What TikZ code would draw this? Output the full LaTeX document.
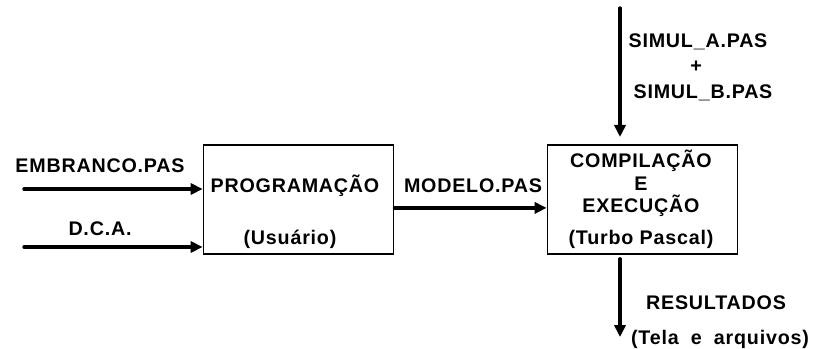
\documentclass[tikz,border=0pt]{standalone}
\usepackage{fontspec}
\setmainfont{Liberation Sans}[LetterSpace=4]
\usepackage{tikz}
\usetikzlibrary{arrows.meta,positioning,calc}

\begin{document}
\begin{tikzpicture}[x=0.025cm, y=-0.025cm,
  box/.style={draw, line width=1.3pt, minimum width=4.75cm, minimum height=2.72cm, inner sep=0pt},
  txt/.style={font=\fontsize{14}{16}\selectfont\bfseries, inner sep=0pt, text height=10pt, text depth=0pt},
  flow/.style={line width=2.4pt, line cap=round, -{Triangle[length=0.3cm, width=0.28cm]}}]
\useasboundingbox (0,0) rectangle (824,349);

% --- Entradas ---
\node[txt] (embr) at (100,165) {EMBRANCO.PAS};
\node[txt] (dca) at (100,228) {D.C.A.};

% Programacao
\node[box] (prog) at (298.5,199.5) {};
\node[txt] (progt) at (295,185) {PROGRAMAÇÃO};
\node[txt] (usu) at (290,237) {(Usuário)};

\coordinate (in1) at (24,189);
\coordinate (in2) at (24,247);
\draw[flow] (in1) -- (in1 -| prog.west);
\draw[flow] (in2) -- (in2 -| prog.west);

% --- Compilacao ---
\node[box] (comp) at (642.5,199.5) {};
\node[txt] (compt) at (641,160) {COMPILAÇÃO};
\node[txt] (compe) at (641,183) {E};
\node[txt] (exec) at (641,205) {EXECUÇÃO};
\node[txt] (turbo) at (641,237) {(Turbo Pascal)};

\node[txt] (modelo) at (473,185) {MODELO.PAS};
\draw[flow] ([yshift=-0.21cm]prog.east) -- ([yshift=-0.21cm]comp.west);

% Simulacao (entrada de cima)
\node[txt] (simA) at (698,40) {SIMUL\_A.PAS};
\node[txt] (plus) at (696,65) {+};
\node[txt] (simB) at (703,91) {SIMUL\_B.PAS};
\coordinate (src) at (620,8);
\draw[flow, shorten >=0.18cm] (src) -- (src |- comp.north);

% --- Saida ---
\node[txt] (res) at (716,302) {RESULTADOS};
\node[txt] (tela) at (720,337) {(Tela\hspace{0.3em} e\hspace{0.3em} arquivos)};
\coordinate (out) at (620,337);
\draw[flow, shorten <=0.1cm] (out |- comp.south) -- (out);

\end{tikzpicture}
\end{document}
